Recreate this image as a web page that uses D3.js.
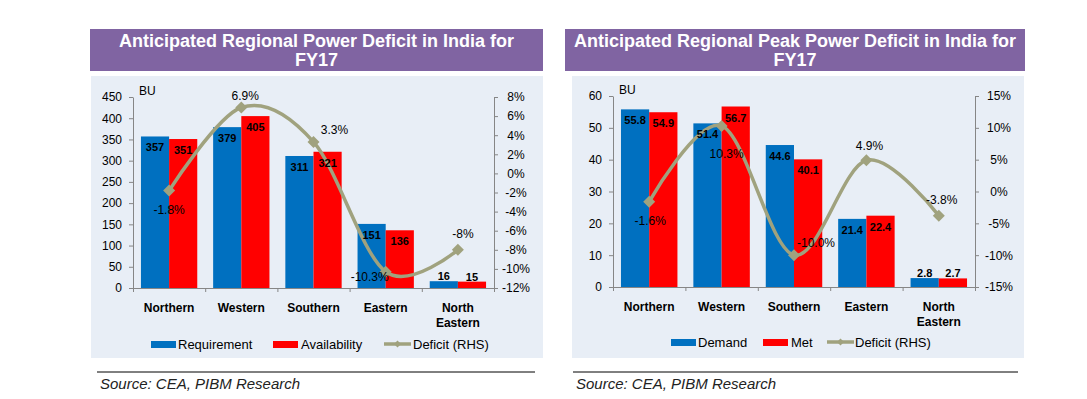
<!DOCTYPE html>
<html>
<head>
<meta charset="utf-8">
<script src="https://cdn.jsdelivr.net/npm/d3@7"></script>
<style>
  body { margin: 0; background: #fff; }
  svg { display: block; }
  text { font-family: Arial, "Liberation Sans", sans-serif; }
</style>
</head>
<body>
<div id="chart"></div>
<script>
// ---- data ----
const regions = ['Northern', 'Western', 'Southern', 'Eastern', 'North Eastern'];

// energy (BU)
const energyRequirement = [357, 379, 311, 151, 16];
const energyAvailability = [351, 405, 321, 136, 15];
const energyDeficit = [-1.8, 6.9, 3.3, -10.3, -8];
const energyTicks = [0, 50, 100, 150, 200, 250, 300, 350, 400, 450];
const energyPctTicks = [-12, -10, -8, -6, -4, -2, 0, 2, 4, 6, 8];

// peak power
const peakDemand = [55.8, 51.4, 44.6, 21.4, 2.8];
const peakMet = [54.9, 56.7, 40.1, 22.4, 2.7];
const peakDeficit = [-1.6, 10.3, -10.0, 4.9, -3.8];
const peakTicks = [0, 10, 20, 30, 40, 50, 60];
const peakPctTicks = [-15, -10, -5, 0, 5, 10, 15];

const BLUE = '#0070C0';
const RED = '#FF0000';
const LINE = '#A0A27E';
const AXIS = '#868686';

const svg = d3.select('#chart').append('svg')
    .attr('width', 1087)
    .attr('height', 399);

function drawPanel(cfg) {
    const g = svg.append('g');

    // title banner
    g.append('rect')
        .attr('x', cfg.banner[0]).attr('y', 29)
        .attr('width', cfg.banner[1] - cfg.banner[0]).attr('height', 42)
        .attr('fill', '#8064A2');
    const cx = (cfg.banner[0] + cfg.banner[1]) / 2;
    cfg.title.forEach((t, i) => {
        g.append('text')
            .attr('x', cx).attr('y', 47 + i * 19)
            .attr('text-anchor', 'middle')
            .attr('fill', '#fff')
            .attr('font-size', '18px')
            .attr('font-weight', 'bold')
            .text(t);
    });

    // plot background
    g.append('rect')
        .attr('x', cfg.panel[0]).attr('y', 76)
        .attr('width', cfg.panel[1] - cfg.panel[0]).attr('height', 282)
        .attr('fill', '#E8EEF6');

    // scales
    const x = d3.scaleBand().domain(regions).range([cfg.x0, cfg.x1])
        .paddingInner(0.22).paddingOuter(0.11);
    const inner = d3.scaleBand().domain([0, 1]).range([0, x.bandwidth()]);
    const y = d3.scaleLinear().domain(cfg.yDomain).range([cfg.yBottom, cfg.yTop]);
    const y2 = d3.scaleLinear().domain(cfg.y2Domain).range([cfg.yBottom, cfg.yTop]);
    const xEdges = d3.scaleLinear().domain([0, regions.length]).range([cfg.x0, cfg.x1]);

    // axes
    const left = g.append('g')
        .attr('transform', `translate(${cfg.x0},0)`)
        .call(d3.axisLeft(y).tickValues(cfg.yTicks).tickSize(4).tickSizeOuter(0).tickPadding(7));
    const right = g.append('g')
        .attr('transform', `translate(${cfg.x1},0)`)
        .call(d3.axisRight(y2).tickValues(cfg.y2Ticks).tickSize(4).tickSizeOuter(0)
            .tickFormat(d => d + '%'));
    right.selectAll('text').attr('text-anchor', 'middle').attr('x', cfg.y2LabelDx);
    const bottom = g.append('g')
        .attr('transform', `translate(0,${cfg.yBottom})`)
        .call(d3.axisBottom(xEdges).tickValues(d3.range(regions.length + 1))
            .tickSize(4).tickSizeOuter(0).tickFormat(''));
    [left, right, bottom].forEach(a => {
        a.select('.domain').attr('stroke', AXIS);
        a.selectAll('line').attr('stroke', AXIS);
        a.selectAll('text').attr('font-size', '12px').attr('fill', '#000')
            .attr('font-family', 'Arial, "Liberation Sans", sans-serif');
    });

    // category labels
    g.append('g').selectAll('text')
        .data(regions)
        .join('text')
        .attr('x', d => x(d) + x.bandwidth() / 2)
        .attr('y', cfg.yBottom + 24)
        .attr('text-anchor', 'middle')
        .attr('font-size', '12px')
        .attr('font-weight', 'bold')
        .each(function (d) {
            const words = d.split(' ');
            d3.select(this).selectAll('tspan')
                .data(words)
                .join('tspan')
                .attr('x', x(d) + x.bandwidth() / 2)
                .attr('dy', (w, i) => i === 0 ? 0 : 15)
                .text(w => w);
        });

    // BU label
    g.append('text')
        .attr('x', cfg.x0 + 6).attr('y', cfg.yTop - 2)
        .attr('font-size', '12px')
        .text('BU');

    // bars
    const series = [cfg.s1, cfg.s2];
    const colors = [BLUE, RED];
    const bars = [];
    series.forEach((vals, si) => {
        vals.forEach((v, i) => bars.push({ si, i, v }));
    });
    g.append('g').selectAll('rect')
        .data(bars)
        .join('rect')
        .attr('x', d => x(regions[d.i]) + inner(d.si))
        .attr('y', d => y(d.v))
        .attr('width', inner.bandwidth())
        .attr('height', d => y(0) - y(d.v))
        .attr('fill', d => colors[d.si]);

    // deficit line
    const pts = cfg.deficit.map((v, i) => [x(regions[i]) + x.bandwidth() / 2, y2(v)]);
    g.append('path')
        .attr('d', d3.line().curve(d3.curveCardinal.tension(0))(pts))
        .attr('fill', 'none')
        .attr('stroke', LINE)
        .attr('stroke-width', 3.5);
    g.append('g').selectAll('path')
        .data(pts)
        .join('path')
        .attr('transform', d => `translate(${d[0]},${d[1]})`)
        .attr('d', 'M0,-6L6,0L0,6L-6,0Z')
        .attr('fill', LINE);

    // bar value labels
    g.append('g').selectAll('text')
        .data(bars)
        .join('text')
        .attr('x', d => x(regions[d.i]) + inner(d.si) + inner.bandwidth() / 2)
        .attr('y', d => (y(0) - y(d.v) > 18) ? y(d.v) + 15 : y(d.v) - 1)
        .attr('text-anchor', 'middle')
        .attr('font-size', '11px')
        .attr('font-weight', 'bold')
        .text(d => d.v);

    // deficit labels
    g.append('g').selectAll('text')
        .data(cfg.deficit)
        .join('text')
        .attr('x', (d, i) => pts[i][0] + cfg.labelOffsets[i][0])
        .attr('y', (d, i) => pts[i][1] + cfg.labelOffsets[i][1])
        .attr('text-anchor', 'middle')
        .attr('font-size', '12px')
        .text(cfg.pctFormat);

    // legend
    const lg = g.append('g').attr('transform', `translate(0,${cfg.legendY})`);
    cfg.legend.forEach((item, k) => {
        if (k < 2) {
            lg.append('rect')
                .attr('x', item.x).attr('y', -3)
                .attr('width', 25).attr('height', 7)
                .attr('fill', colors[k]);
        } else {
            lg.append('line')
                .attr('x1', item.x).attr('x2', item.x + 27)
                .attr('y1', 0).attr('y2', 0)
                .attr('stroke', LINE).attr('stroke-width', 3.5);
            lg.append('path')
                .attr('transform', `translate(${item.x + 13.5},0)`)
                .attr('d', 'M0,-3.5L3.5,0L0,3.5L-3.5,0Z')
                .attr('fill', LINE);
        }
        lg.append('text')
            .attr('x', item.x + item.tx).attr('y', 5)
            .attr('font-size', '13px')
            .text(item.label);
    });

    // source
    g.append('line')
        .attr('x1', cfg.source[0]).attr('x2', cfg.source[1])
        .attr('y1', 372).attr('y2', 372)
        .attr('stroke', '#000').attr('stroke-width', 1);
    g.append('text')
        .attr('x', cfg.source[0] + 3).attr('y', 389)
        .attr('font-family', '"Open Sans", sans-serif')
        .attr('font-style', 'italic')
        .attr('font-size', '15px')
        .attr('fill', '#222')
        .text('Source: CEA, PIBM Research');
}

drawPanel({
    banner: [90, 543], panel: [91, 543],
    title: ['Anticipated Regional Power Deficit in India for', 'FY17'],
    x0: 133, x1: 494, yTop: 97, yBottom: 288,
    yDomain: [0, 450], y2Domain: [-12, 8],
    yTicks: energyTicks, y2Ticks: energyPctTicks, y2LabelDx: 22,
    s1: energyRequirement, s2: energyAvailability, deficit: energyDeficit,
    pctFormat: d => d + '%',
    labelOffsets: [[0, 23], [4, -8], [21, -8], [-16, 9], [5, -12]],
    legendY: 344,
    legend: [
        { x: 151, tx: 27, label: 'Requirement' },
        { x: 273, tx: 28, label: 'Availability' },
        { x: 384, tx: 29, label: 'Deficit (RHS)' }
    ],
    source: [97, 535]
});

drawPanel({
    banner: [565, 1025], panel: [572, 1024],
    title: ['Anticipated Regional Peak Power Deficit in India for', 'FY17'],
    x0: 613, x1: 975, yTop: 96, yBottom: 287,
    yDomain: [0, 60], y2Domain: [-15, 15],
    yTicks: peakTicks, y2Ticks: peakPctTicks, y2LabelDx: 24,
    s1: peakDemand, s2: peakMet, deficit: peakDeficit,
    pctFormat: d => d.toFixed(1) + '%',
    labelOffsets: [[1, 23], [5, 32], [22, -8], [3, -10], [3, -12]],
    legendY: 342,
    legend: [
        { x: 671, tx: 27, label: 'Demand' },
        { x: 763, tx: 28, label: 'Met' },
        { x: 827, tx: 28, label: 'Deficit (RHS)' }
    ],
    source: [573, 1018]
});
</script>
</body>
</html>
